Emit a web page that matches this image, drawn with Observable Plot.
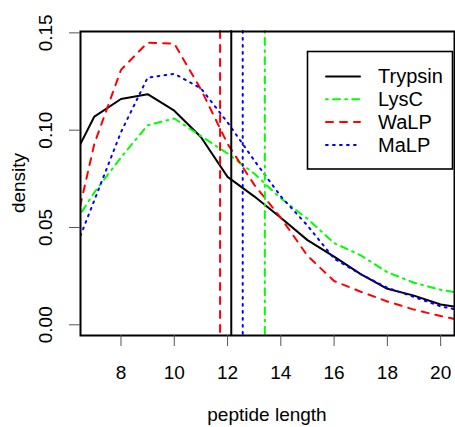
<!DOCTYPE html>
<html>
<head>
<meta charset="utf-8">
<script src="https://cdn.jsdelivr.net/npm/d3@7"></script>
<script src="https://cdn.jsdelivr.net/npm/@observablehq/plot@0.6"></script>
<style>
  html, body { margin: 0; padding: 0; background: #fff; }
  svg { display: block; }
</style>
</head>
<body>
<div id="chart"></div>
<script>
// ---------------- data ----------------
const lengths = [6, 7, 8, 9, 10, 11, 12, 13, 14, 15, 16, 17, 18, 19, 20, 21];
const trypsin = [0.080, 0.107, 0.116, 0.1185, 0.110, 0.0965, 0.076, 0.066, 0.055, 0.0435, 0.035, 0.026, 0.0185, 0.015, 0.0104, 0.0085];
const lysC    = [0.047, 0.068, 0.086, 0.1025, 0.106, 0.097, 0.088, 0.0777, 0.065, 0.0545, 0.042, 0.0357, 0.027, 0.0216, 0.018, 0.0157];
const walp    = [0.033, 0.093, 0.131, 0.145, 0.1445, 0.121, 0.093, 0.072, 0.055, 0.0355, 0.0225, 0.017, 0.012, 0.0078, 0.0045, 0.0016];
const malp    = [0.029, 0.064, 0.099, 0.127, 0.129, 0.1215, 0.104, 0.0845, 0.066, 0.051, 0.034, 0.026, 0.019, 0.0143, 0.0095, 0.0066];
const seriesNames = ["Trypsin", "LysC", "WaLP", "MaLP"];
const seriesValues = [trypsin, lysC, walp, malp];
const medians = [12.14, 13.40, 11.72, 12.57];
const xTicks = [8, 10, 12, 14, 16, 18, 20];
const yTicks = [0.00, 0.05, 0.10, 0.15];
const xLimits = [7, 20];
const xTitle = "peptide length";
const yTitle = "density";

// ---------------- styles ----------------
const styles = [
  {stroke: "#000000", dash: null},
  {stroke: "#00ff00", dash: "1.75,5.25,7,5.25"},
  {stroke: "#ff0000", dash: "7,7"},
  {stroke: "#0000ff", dash: "1.75,5.25"}
];
const FONT = "'Liberation Sans', Arial, Helvetica, sans-serif";
const FS = 19;

// R-style 4% axis extension
const ext = (lim) => { const d = (lim[1] - lim[0]) * 0.04; return [lim[0] - d, lim[1] + d]; };

const W = 455, H = 427, ML = 80, MT = 31, MR = 1, MB = 92;

const tables = seriesValues.map((vals, i) =>
  lengths.map((len, j) => ({series: seriesNames[i], length: len, density: vals[j]}))
);

const marks = [];
tables.forEach((rows, i) => {
  marks.push(Plot.line(rows, {
    x: "length", y: "density",
    stroke: styles[i].stroke, strokeWidth: 2,
    strokeDasharray: styles[i].dash || undefined,
    strokeLinecap: "round", strokeLinejoin: "round",
    clip: true
  }));
});
medians.forEach((m, i) => {
  marks.push(Plot.ruleX([m], {
    x: d => d,
    stroke: styles[i].stroke, strokeWidth: 2,
    strokeDasharray: styles[i].dash || undefined,
    strokeLinecap: "round"
  }));
});
marks.push(Plot.frame({stroke: "#000", strokeWidth: 2}));
marks.push(Plot.axisX({
  ticks: xTicks, tickSize: 11, tickPadding: 19, label: null,
  stroke: "#555", fill: "#000", fontSize: FS, tickFormat: d => String(d)
}));
marks.push(Plot.axisY({
  ticks: yTicks, tickSize: 11, label: null, stroke: "#555",
  tickFormat: () => ""
}));
marks.push(Plot.text(yTicks, {
  y: d => d, text: d => d3.format(".2f")(d),
  frameAnchor: "left", dx: -35, rotate: -90,
  fill: "#000", fontSize: FS, textAnchor: "middle", lineAnchor: "middle"
}));

const svg = Plot.plot({
  width: W, height: H,
  marginLeft: ML, marginTop: MT, marginRight: MR, marginBottom: MB,
  x: {domain: ext(xLimits)},
  y: {domain: [-0.0055, 0.1507]},
  style: {fontFamily: FONT, fontSize: FS + "px", background: "#fff", color: "#000", overflow: "visible"},
  marks
});

document.getElementById("chart").appendChild(svg);

// ---------------- titles & legend ----------------
const s = d3.select(svg);
s.append("text")
  .attr("x", (ML + (W - MR)) / 2).attr("y", 421)
  .attr("text-anchor", "middle")
  .attr("font-family", FONT).attr("font-size", FS).attr("fill", "#000")
  .text(xTitle);
s.append("text")
  .attr("transform", `translate(25,${(MT + (H - MB)) / 2}) rotate(-90)`)
  .attr("text-anchor", "middle")
  .attr("font-family", FONT).attr("font-size", FS).attr("fill", "#000")
  .text(yTitle);

const lg = s.append("g").attr("text-anchor", "start");
lg.append("rect")
  .attr("x", 307.5).attr("y", 51.5).attr("width", 145).attr("height", 117.5)
  .attr("fill", "#fff").attr("stroke", "#000").attr("stroke-width", 1.6);
seriesNames.forEach((name, i) => {
  const y = 76.5 + i * 22.8;
  lg.append("line")
    .attr("x1", 326).attr("x2", 360).attr("y1", y).attr("y2", y)
    .attr("stroke", styles[i].stroke).attr("stroke-width", 2)
    .attr("stroke-linecap", "round")
    .attr("stroke-dasharray", styles[i].dash);
  lg.append("text")
    .attr("x", 378).attr("y", y + 6.8)
    .attr("text-anchor", "start")
    .attr("font-family", FONT).attr("font-size", 20).attr("fill", "#000")
    .text(name);
});
</script>
</body>
</html>
